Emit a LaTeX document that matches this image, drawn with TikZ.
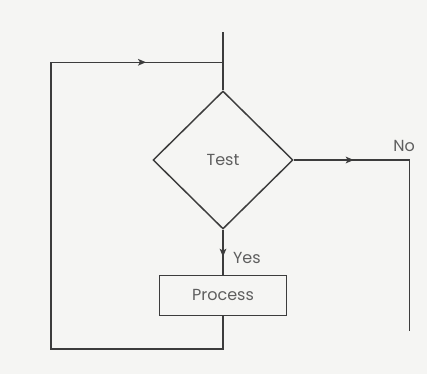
\documentclass[tikz,border=0pt]{standalone}
\usepackage{fontspec}
\setmainfont{Poppins}
\usetikzlibrary{positioning, shapes.geometric, decorations.markings, arrows.meta}
\definecolor{paper}{HTML}{F5F5F3}
\definecolor{ink}{HTML}{3C3C3C}
\definecolor{label_ink}{HTML}{5E5E5E}
\tikzstyle{decision}=[diamond, draw=ink, line width=1.1pt, minimum width=105pt, minimum height=103.5pt, inner sep=0pt, text=label_ink, font=\fontsize{12}{14}\selectfont]
\tikzstyle{process_box}=[rectangle, draw=ink, line width=1.1pt, minimum width=95pt, minimum height=30pt, text=label_ink, font=\fontsize{12}{14}\selectfont]
\tikzstyle{flow}=[draw=ink, line width=1.1pt, line join=miter]
\tikzstyle{flow_label}=[text=label_ink, font=\fontsize{12}{14}\selectfont, inner sep=1pt]
\tikzset{mid_arrow/.style={flow, decoration={markings, mark=at position #1 with {\arrow{Stealth[length=6pt, width=5pt, inset=1.5pt]}}}, postaction=decorate}}

\begin{document}
\begin{tikzpicture}

% page
\fill[paper] (-167.25pt,120pt) rectangle (153pt,-160.5pt);

% decision and process
\node [decision]    (test)                              {Test};
\node [process_box] (process) [below=33.75pt of test]   {Process};

% helper points for the loop
\coordinate [above=43.5pt of test.north]  (entry);
\coordinate [above=21pt of test.north]    (loop_join);
\coordinate [left=129pt of loop_join]     (loop_top);
\coordinate [below=24.75pt of process.south] (loop_bottom);
\coordinate [right=87pt of test.east]     (no_corner);
\coordinate [below=128pt of no_corner]    (no_end);

% way in
\draw[flow] (entry) to (test.north);

% Yes branch
\draw[mid_arrow=0.6] (test.south) to node[flow_label, right=6pt, pos=0.62]{Yes} (process.north);

% back round the loop
\draw[mid_arrow=-57.75pt] (process.south) to (loop_bottom) -| (loop_top) to (loop_join);

% No branch
\draw[mid_arrow=45pt] (test.east) to (no_corner) to (no_end);
\node [flow_label] (no_label) [above left=5pt and -5pt of no_corner] {No};

\end{tikzpicture}
\end{document}
